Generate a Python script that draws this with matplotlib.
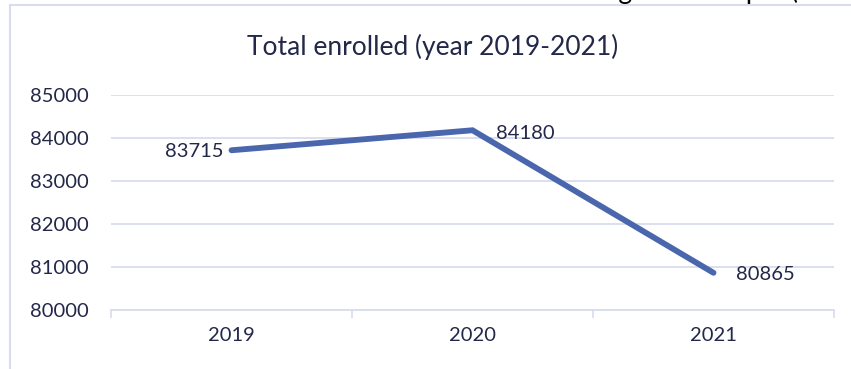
import matplotlib
matplotlib.use("Agg")
import matplotlib.pyplot as plt
from matplotlib.lines import Line2D

years = ["2019", "2020", "2021"]
enrolled = [83715, 84180, 80865]
yticks = [80000, 81000, 82000, 83000, 84000, 85000]
title = "Total enrolled (year 2019-2021)"

TXT = "#232748"
GRID = "#D9DCEF"
LINE = "#4A66AC"
FONT = "Lato"

W, H = 851, 369
fig = plt.figure(figsize=(W / 100, H / 100), dpi=100)
fig.patch.set_facecolor("white")

ax = fig.add_axes([111 / W, 1 - 310 / H, (834 - 111) / W, (310 - 95) / H])
x = list(range(len(years)))
ax.plot(x, enrolled, color=LINE, lw=4.2, solid_capstyle="round", solid_joinstyle="miter", zorder=3)
ax.set_xlim(-0.5, len(years) - 0.5)
ax.set_ylim(yticks[0], yticks[-1])
ax.set_yticks(yticks)
ax.set_yticklabels([str(v) for v in yticks], fontsize=14.5, color=TXT, family=FONT)
ax.set_xticks(x)
ax.set_xticklabels(years, fontsize=14.5, color=TXT, family=FONT)
ax.set_xticks([i - 0.5 for i in range(len(years) + 1)], minor=True)
ax.tick_params(axis="y", length=0, pad=16)
ax.tick_params(axis="x", which="major", length=0, pad=12)
ax.tick_params(axis="x", which="minor", length=6, width=1.2, color=GRID, direction="out")
ax.grid(axis="y", color=GRID, lw=1.3, zorder=0)
for s in ["top", "right", "left"]:
    ax.spines[s].set_visible(False)
ax.spines["bottom"].set_color(GRID)
ax.spines["bottom"].set_linewidth(1.3)

offsets = [(-6, -1, "right"), (17, -2, "left"), (16, -1, "left")]
for xi, v, (dx, dy, ha) in zip(x, enrolled, offsets):
    ax.annotate(str(v), (xi, v), xytext=(dx, dy), textcoords="offset points",
                ha=ha, va="center", fontsize=14.5, color=TXT, family=FONT)

fig.text(433 / W, 1 - 47 / H, title, ha="center", va="center", fontsize=19,
         color=TXT, family=FONT)

# chart frame (left and top borders)
fig.add_artist(Line2D([10 / W, 10 / W], [0, 1 - 5 / H], transform=fig.transFigure, color=GRID, lw=1.5))
fig.add_artist(Line2D([10 / W, 1], [1 - 5 / H, 1 - 5 / H], transform=fig.transFigure, color=GRID, lw=1.5))

# cut-off caption text above the frame
fig.text(530 / W, 1 + 1 / H, "Enrolling students per (", ha="left", va="baseline",
         fontsize=19, color="#000000", family=FONT)

fig.savefig("out.png", dpi=100)
